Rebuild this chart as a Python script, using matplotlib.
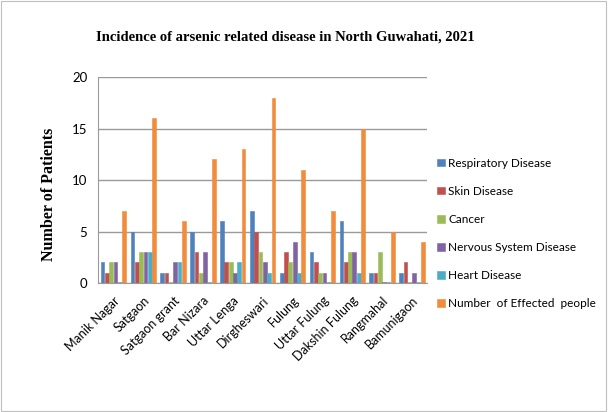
import numpy as np
import matplotlib.pyplot as plt
from matplotlib.patches import Rectangle

villages = ['Manik Nagar', 'Satgaon', 'Satgaon grant', 'Bar Nizara', 'Uttar Lenga',
            'Dirgheswari', 'Fulung', 'Uttar Fulung', 'Dakshin Fulung', 'Rangmahal', 'Bamunigaon']
respiratory = [2, 5, 1, 5, 6, 7, 1, 3, 6, 1, 1]
skin = [1, 2, 1, 3, 2, 5, 3, 2, 2, 1, 2]
cancer = [2, 3, 0, 1, 2, 3, 2, 1, 3, 3, 0]
nervous = [2, 3, 2, 3, 1, 2, 4, 1, 3, 0, 1]
heart = [0, 3, 2, 0, 2, 1, 1, 0, 1, 0, 0]
affected = [7, 16, 6, 12, 13, 18, 11, 7, 15, 5, 4]

series = [
    ('Respiratory Disease', respiratory, '#4F81BD'),
    ('Skin Disease', skin, '#C0504D'),
    ('Cancer', cancer, '#9BBB59'),
    ('Nervous System Disease', nervous, '#8064A2'),
    ('Heart Disease', heart, '#4BACC6'),
    ('Number  of Effected  people', affected, '#F08C3C'),
]

fig = plt.figure(figsize=(6.08, 4.12), dpi=100)
fig.patches.append(Rectangle((0.002, 0.002), 0.995, 0.995, transform=fig.transFigure,
                             fill=False, edgecolor='#bfbfbf', linewidth=0.8))
ax = fig.add_axes([0.162, 0.313, 0.54, 0.50])

x = np.arange(len(villages))
w = 0.125
step = 0.145
for i, (name, vals, col) in enumerate(series):
    off = (i - 2.5) * step
    # zero values still get a thin sliver on the floor
    h = [v if v > 0 else 0.08 for v in vals]
    ax.bar(x + off, h, width=w, color=col, edgecolor=col, linewidth=0.4, label=name)

ax.set_ylim(0, 20)
ax.set_xlim(-0.5, len(villages) - 0.5)
ax.set_yticks([0, 5, 10, 15, 20])
ax.yaxis.grid(True, color='#9a9a9a', linewidth=1.0)
ax.set_axisbelow(True)
for s in ['top', 'right']:
    ax.spines[s].set_visible(False)
ax.spines['left'].set_color('#9a9a9a')
ax.spines['bottom'].set_color('#9a9a9a')
ax.tick_params(axis='both', length=0, labelsize=9.5, pad=8)
for t in ax.get_yticklabels():
    t.set_family('Lato')
ax.set_xticks(x)
ax.set_xticklabels(villages, rotation=45, ha='right', rotation_mode='anchor',
                   fontsize=9, family='Lato')

ax.set_ylabel('Number of Patients', fontsize=11.5, fontweight='bold', family='Liberation Serif')
ax.yaxis.set_label_coords(-0.125, 0.43)
fig.text(0.469, 0.91, 'Incidence of arsenic related disease in North Guwahati, 2021',
         ha='center', va='center', fontsize=10.5, fontweight='bold', family='Liberation Serif')

leg = ax.legend(loc='upper left', bbox_to_anchor=(1.0, 0.66), frameon=False,
                prop={'family': 'Lato', 'size': 8.5},
                handlelength=0.6, handleheight=0.6, handletextpad=0.3, labelspacing=1.45)

fig.savefig('out.png', dpi=100)
